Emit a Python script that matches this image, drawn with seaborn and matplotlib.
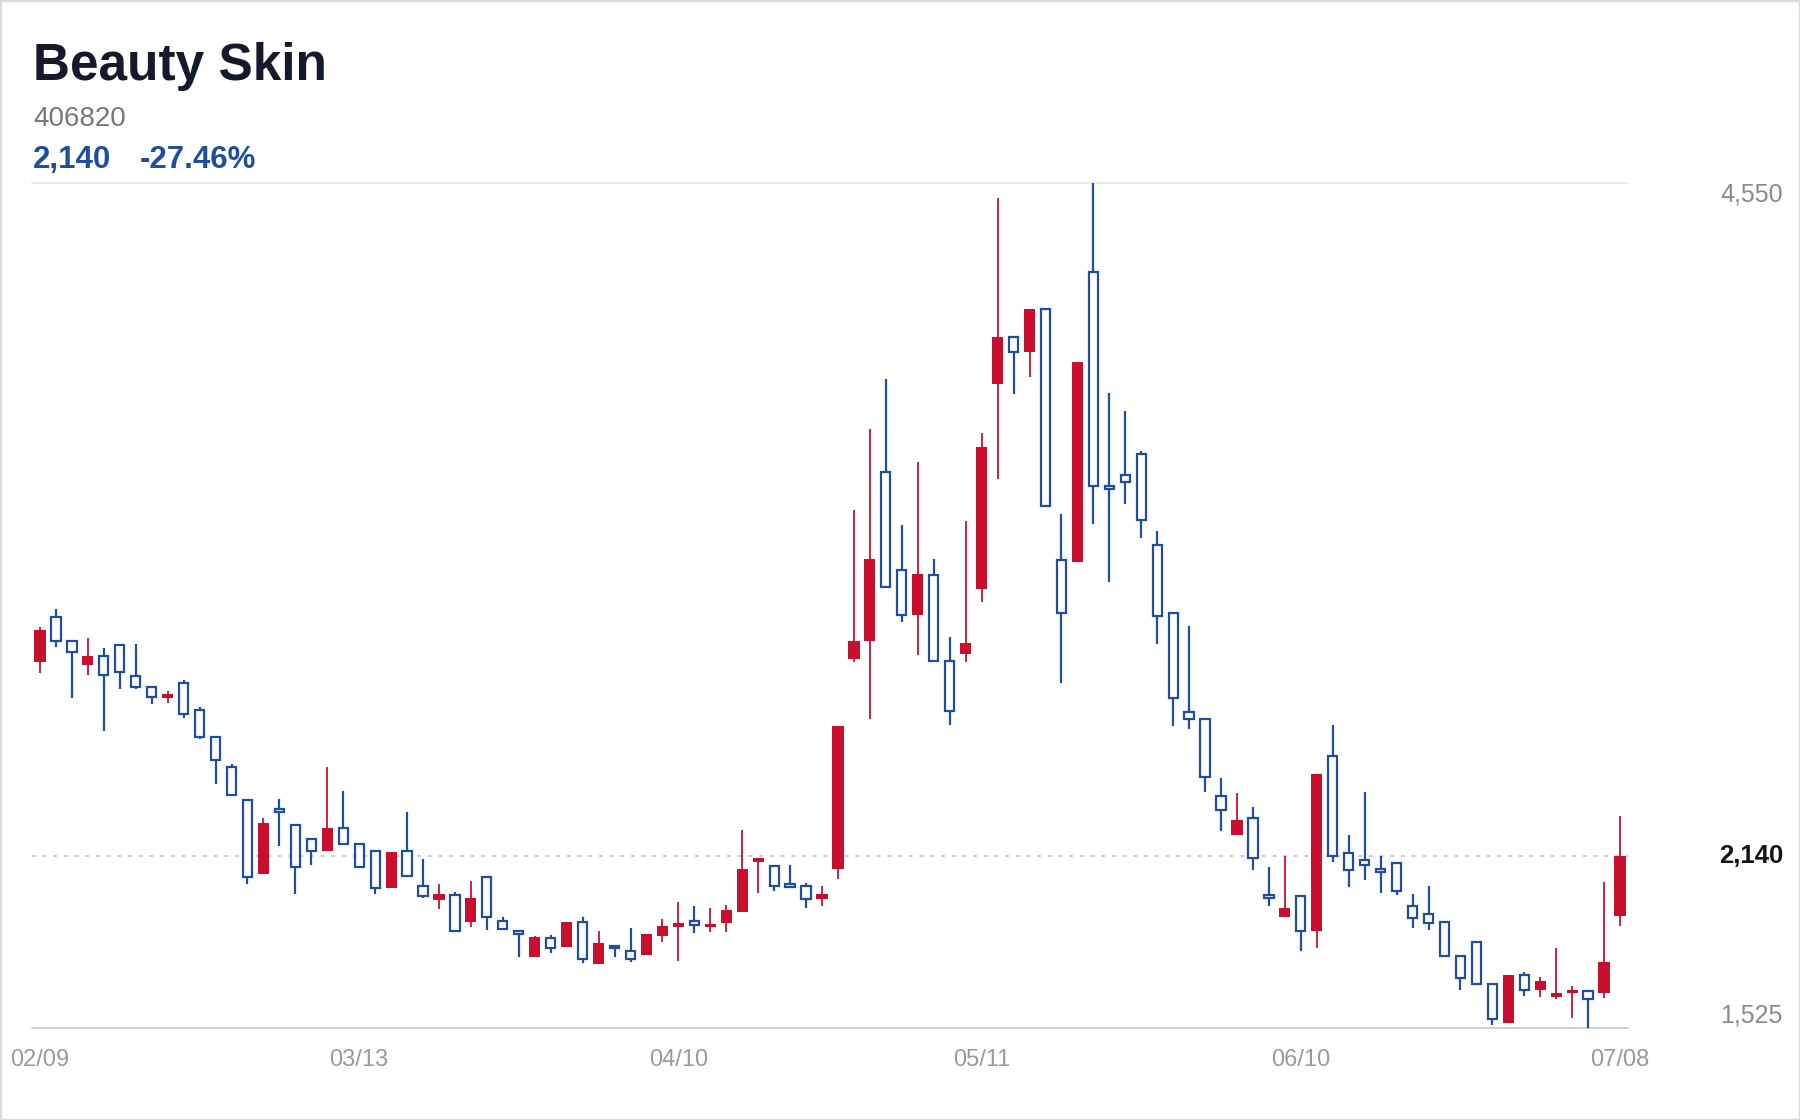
import numpy as np
import seaborn as sns
import matplotlib.pyplot as plt
from matplotlib.patches import Rectangle

# daily candles, 02/09 .. 07/08
opens = [2835, 2995, 2910, 2825, 2855, 2895, 2785, 2745, 2705, 2760,
         2665, 2565, 2460, 2340, 2075, 2310, 2250, 2200, 2160, 2240,
         2185, 2160, 2025, 2160, 2035, 1983, 2001, 1906, 2065, 1908,
         1873, 1778, 1848, 1816, 1906, 1754, 1820, 1802, 1786, 1855,
         1888, 1909, 1886, 1902, 1941, 2120, 2105, 2040, 2035, 1987,
         2095, 2845, 2910, 3515, 3165, 3005, 3145, 2840, 2865, 3095,
         3830, 4000, 3945, 4100, 3200, 3195, 4230, 3465, 3505, 3580,
         3255, 3010, 2655, 2630, 2355, 2215, 2275, 2000, 1921, 1999,
         1873, 2500, 2150, 2125, 2095, 2115, 1962, 1933, 1906, 1783,
         1832, 1683, 1544, 1715, 1661, 1637, 1649, 1659, 1649, 1927]
highs = [2960, 3025, 2910, 2920, 2885, 2895, 2900, 2750, 2730, 2770,
         2675, 2565, 2470, 2340, 2275, 2345, 2250, 2200, 2460, 2375,
         2185, 2160, 2155, 2300, 2130, 2040, 2013, 2050, 2065, 1921,
         1873, 1854, 1858, 1906, 1923, 1873, 1820, 1884, 1860, 1914,
         1977, 1962, 1954, 1965, 2235, 2135, 2105, 2110, 2045, 2035,
         2605, 3380, 3670, 3850, 3325, 3550, 3205, 2925, 3340, 3655,
         4495, 4000, 4100, 4100, 3365, 3910, 4550, 3800, 3735, 3590,
         3305, 3010, 2965, 2630, 2420, 2365, 2315, 2100, 2140, 1999,
         2435, 2610, 2215, 2370, 2140, 2117, 2005, 2034, 1906, 1783,
         1832, 1683, 1715, 1727, 1709, 1810, 1676, 1659, 2049, 2284]
lows = [2795, 2890, 2705, 2790, 2590, 2740, 2740, 2685, 2690, 2635,
        2560, 2400, 2360, 2040, 2075, 2175, 2005, 2110, 2160, 2180,
        2100, 2005, 2025, 2070, 1989, 1951, 1868, 1885, 1876, 1878,
        1778, 1778, 1792, 1816, 1757, 1754, 1778, 1762, 1786, 1832,
        1765, 1864, 1868, 1870, 1941, 2010, 2015, 2025, 1954, 1963,
        2060, 2835, 2630, 3105, 2980, 2860, 2840, 2610, 2835, 3050,
        3490, 3795, 3855, 3395, 2760, 3195, 3330, 3120, 3400, 3280,
        2900, 2605, 2595, 2370, 2230, 2215, 2090, 1962, 1921, 1802,
        1810, 2120, 2030, 2055, 2010, 2000, 1882, 1876, 1784, 1661,
        1683, 1536, 1544, 1641, 1635, 1628, 1562, 1525, 1631, 1891]
closes = [2950, 2910, 2870, 2855, 2790, 2800, 2745, 2710, 2720, 2650,
          2565, 2485, 2360, 2065, 2260, 2300, 2100, 2160, 2240, 2185,
          2100, 2025, 2155, 2070, 1999, 2005, 1872, 1991, 1923, 1878,
          1860, 1850, 1810, 1906, 1772, 1828, 1811, 1771, 1860, 1890,
          1902, 1894, 1896, 1947, 2095, 2135, 2035, 2030, 1987, 2005,
          2605, 2910, 3205, 3105, 3005, 3150, 2840, 2660, 2905, 3605,
          4000, 3945, 4100, 3395, 3010, 3910, 3465, 3455, 3480, 3345,
          3000, 2705, 2630, 2425, 2305, 2270, 2135, 1990, 1956, 1873,
          2435, 2140, 2090, 2110, 2085, 2015, 1918, 1902, 1784, 1703,
          1683, 1557, 1715, 1661, 1694, 1649, 1661, 1628, 1760, 2140]

tick_pos = [0, 20, 40, 59, 79, 99]
tick_labels = ["02/09", "03/13", "04/10", "05/11", "06/10", "07/08"]

name = "Beauty Skin"
code = "406820"
last_price = 2140
change_pct = -27.46

RED = "#c8102e"
BLUE = "#1f4e9c"

sns.set_theme(style="white")
plt.rcParams["font.family"] = ["Liberation Sans", "DejaVu Sans"]

fig = plt.figure(figsize=(18, 11.2), dpi=100)
ax = fig.add_axes([32 / 1800, 1 - 1028 / 1120, 1596 / 1800, 845 / 1120])

o = np.array(opens)
h = np.array(highs)
lo = np.array(lows)
c = np.array(closes)
x = np.arange(len(o))
up = c >= o

# wicks first, bodies on top
ax.vlines(x[up], lo[up], h[up], color=RED, lw=1.3, zorder=2)
ax.vlines(x[~up], lo[~up], h[~up], color=BLUE, lw=1.6, zorder=2)
ax.bar(x[up], c[up] - o[up], bottom=o[up], width=0.7, color=RED,
       linewidth=0, zorder=3)
ax.bar(x[~up], o[~up] - c[~up], bottom=c[~up], width=0.58,
       facecolor="white", edgecolor=BLUE, linewidth=1.6, zorder=3)

ymin, ymax = min(lows), max(highs)
ax.set_xlim(-0.5, len(o) - 0.5)
ax.set_ylim(ymin, ymax)
ax.axhline(ymax, color="#ececec", lw=1.5, clip_on=False, zorder=1)
ax.axhline(ymin, color="#c6c6c6", lw=1.2, clip_on=False, zorder=1)
ax.axhline(last_price, color="#bdbdbd", lw=1.1, ls=(0, (2.5, 4.5)), zorder=1)

for s in ax.spines.values():
    s.set_visible(False)
ax.set_yticks([])
ax.set_xticks(tick_pos, tick_labels)
ax.tick_params(axis="x", length=0, pad=15, labelsize=17, labelcolor="#9a9a9a")

# price labels on the right
ytr = ax.get_yaxis_transform()
lx = (1783 - 32) / 1596
ax.text(lx, ymax, f"{ymax:,}", transform=ytr, ha="right", va="top",
        fontsize=18, color="#8a8a8a")
ax.text(lx, ymin, f"{ymin:,}", transform=ytr, ha="right", va="bottom",
        fontsize=18, color="#8a8a8a")
ax.text(lx, last_price, f"{last_price:,}", transform=ytr, ha="right",
        va="center", fontsize=18.5, fontweight="bold", color="#151515")

# header
fig.text(33 / 1800, 1 - 80 / 1120, name, fontsize=37, fontweight="bold",
         color="#131a2b", va="baseline")
fig.text(33 / 1800, 1 - 126 / 1120, code, fontsize=20, color="#777777",
         va="baseline")
fig.text(33 / 1800, 1 - 168 / 1120, f"{last_price:,}", fontsize=22.5,
         fontweight="bold", color="#1d4f9c", va="baseline")
fig.text(140 / 1800, 1 - 168 / 1120, f"{change_pct:.2f}%", fontsize=22.5,
         fontweight="bold", color="#1d4f9c", va="baseline")

fig.patches.append(Rectangle((0, 0), 1, 1, transform=fig.transFigure,
                             fill=False, edgecolor="#dadbe1", lw=2.5))

fig.savefig("out.png", dpi=100)
